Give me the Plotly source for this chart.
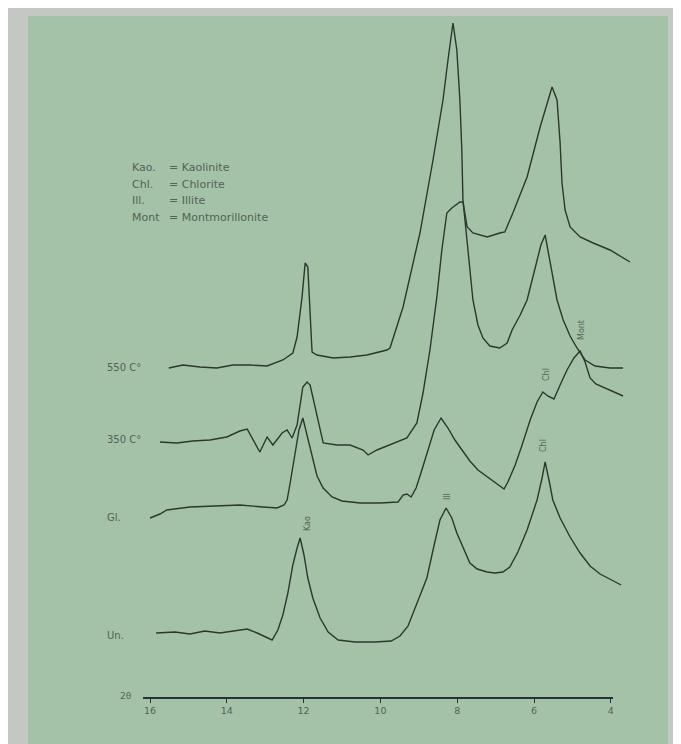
import plotly.graph_objects as go

# page is 681x744, but the html body adds an 8px margin, so the figure is 8px smaller and shifted
PAGE_W, PAGE_H, OFF = 681, 744, 8
W, H = PAGE_W - OFF, PAGE_H - OFF

# ---- data (2theta in degrees, intensity above each pattern's own baseline, arbitrary units) ----
un_theta = [15.84, 15.35, 14.96, 14.57, 14.18, 13.79, 13.47, 13.21, 13.01, 12.82, 12.67, 12.54, 12.41, 12.28, 12.17, 12.09,
            11.99, 11.89, 11.76, 11.57, 11.36, 11.10, 10.66, 10.14, 9.72, 9.49, 9.28, 9.02, 8.79, 8.60, 8.45, 8.29,
            8.14, 8.01, 7.82, 7.67, 7.48, 7.22, 7.02, 6.81, 6.63, 6.42, 6.18, 5.92, 5.79, 5.71,
            5.61, 5.51, 5.32, 5.06, 4.80, 4.54, 4.28, 4.02, 3.73]
un_int = [0, 1, -1, 2, 0, 2, 4, 0, -4, -7, 3, 18, 40, 68, 85, 95,
          78, 55, 35, 15, 1, -7, -9, -9, -8, -3, 7, 33, 55, 88, 113, 125,
          115, 100, 83, 70, 64, 61, 60, 61, 66, 81, 103, 133, 155, 171,
          153, 133, 115, 96, 80, 67, 59, 54, 48]

gl_theta = [16.00, 15.74, 15.56, 14.96, 14.31, 13.66, 13.06, 12.69, 12.51, 12.43, 12.35, 12.22, 12.12, 12.02,
            11.91, 11.78, 11.65, 11.49, 11.26, 11.00, 10.53, 10.01, 9.54, 9.41, 9.31, 9.20, 9.07, 8.92, 8.76, 8.60, 8.42,
            8.24, 8.06, 7.88, 7.67, 7.46, 7.22, 7.02, 6.89, 6.78, 6.68, 6.49, 6.31, 6.10, 5.92, 5.77,
            5.64, 5.48, 5.32, 5.14, 4.96, 4.80, 4.67, 4.54, 4.39, 4.20, 3.97, 3.68]
gl_int = [-11, -7, -3, 0, 1, 2, 0, -1, 2, 7, 24, 52, 77, 89,
          72, 49, 31, 19, 10, 6, 4, 4, 5, 12, 13, 10, 19, 37, 57, 77, 89,
          79, 67, 57, 46, 37, 30, 25, 21, 18, 25, 42, 62, 87, 105, 115,
          111, 108, 122, 137, 149, 156, 145, 129, 123, 120, 116, 111]

t350_theta = [15.74, 15.30, 14.88, 14.44, 14.00, 13.66, 13.47, 13.32, 13.14, 12.95, 12.80, 12.56, 12.43, 12.30, 12.17,
              12.02, 11.91, 11.83, 11.65, 11.49, 11.13, 10.79, 10.45, 10.32, 10.09, 9.75, 9.31, 9.05, 8.89, 8.71,
              8.53, 8.40, 8.27, 8.14, 7.93, 7.85, 7.74, 7.59, 7.22, 6.89, 6.76, 6.55, 6.18, 5.84, 5.53,
              5.40, 5.32, 5.27, 5.19, 5.06, 4.80, 4.46, 4.02, 3.50]
t350_int = [0, -1, 1, 2, 5, 11, 13, 2, -10, 5, -3, 9, 12, 4, 17,
            55, 60, 57, 25, -1, -3, -3, -8, -13, -8, -3, 4, 19, 49, 92,
            145, 192, 229, 234, 240, 240, 215, 209, 205, 209, 210, 229, 265, 315, 355,
            342, 299, 259, 232, 215, 205, 199, 192, 180]

t550_theta = [15.51, 15.14, 14.70, 14.26, 13.84, 13.40, 12.95, 12.54, 12.28, 12.17, 12.04, 11.96, 11.89, 11.83, 11.78,
              11.65, 11.23, 10.79, 10.35, 9.83, 9.75, 9.41, 8.97, 8.63, 8.37, 8.24, 8.11, 8.01, 7.93, 7.88, 7.85,
              7.72, 7.59, 7.46, 7.33, 7.15, 6.89, 6.70, 6.57, 6.36, 6.18, 5.97, 5.82, 5.71,
              5.58, 5.40, 5.24, 5.06, 4.88, 4.67, 4.41, 4.02, 3.68]
t550_int = [0, 3, 1, 0, 3, 3, 2, 8, 15, 31, 71, 105, 101, 55, 16,
            13, 10, 11, 13, 18, 20, 61, 135, 208, 268, 308, 345, 318, 268, 218, 168,
            118, 68, 43, 30, 22, 20, 25, 38, 53, 68, 100, 123, 133,
            106, 68, 48, 32, 20, 8, 2, 0, 0]

# stacking baselines (vertical shift of each pattern), and names
pattern_names = ["550 C°", "350 C°", "Gl.", "Un."]
pattern_shift = [376, 302, 237, 111]

tick_vals = [16, 14, 12, 10, 8, 6, 4]
tick_text = ["16", "14", "12", "10", "8", "6", "4"]

legend_abbr = ["Kao.", "Chl.", "Ill.", "Mont"]
legend_full = ["= Kaolinite", "= Chlorite", "= Illite", "= Montmorillonite"]

peak_labels = ["Kao", "Ill", "Chl", "Chl", "Mont"]

# ------------------------------------------------------------------------------------------------
fig = go.Figure()
LINE = "#2b382e"
series = [(t550_theta, t550_int), (t350_theta, t350_int), (gl_theta, gl_int), (un_theta, un_int)]
for (th, it), name, sh in zip(series, pattern_names, pattern_shift):
    fig.add_trace(go.Scatter(x=th, y=[v + sh for v in it], mode="lines", name=name,
                             line=dict(color=LINE, width=1.4), hoverinfo="skip", showlegend=False))

# dummy trace to carry the drawn 2-theta axis
fig.add_trace(go.Scatter(x=[16, 4], y=[0, 0], xaxis="x2", yaxis="y2", mode="lines",
                         line=dict(color="rgba(0,0,0,0)", width=0), hoverinfo="skip", showlegend=False))


def px(x):
    return (x - OFF) / W


def py(y):
    return 1 - (y - OFF) / H


shapes = [
    dict(type="rect", xref="paper", yref="paper", x0=0, x1=1, y0=0, y1=1, fillcolor="#c3c8c3",
         line=dict(width=0), layer="below"),
    dict(type="rect", xref="paper", yref="paper", x0=px(28), x1=px(668), y0=0, y1=py(16), fillcolor="#a4c2a8",
         line=dict(width=0), layer="below"),
]

TXT = "#536356"
FONT = "DejaVu Sans"
ann = []
label_y = [368, 439, 517, 635]
for name, yy in zip(pattern_names, label_y):
    ann.append(dict(x=px(105), y=py(yy), xref="paper", yref="paper", text=name, showarrow=False,
                    xanchor="left", yanchor="middle", font=dict(size=10, color=TXT, family=FONT)))
for i, (a, f) in enumerate(zip(legend_abbr, legend_full)):
    yy = 168 + i * 16.5
    ann.append(dict(x=px(130), y=py(yy), xref="paper", yref="paper", text=a, showarrow=False,
                    xanchor="left", yanchor="middle", font=dict(size=11, color=TXT, family=FONT)))
    ann.append(dict(x=px(167), y=py(yy), xref="paper", yref="paper", text=f, showarrow=False,
                    xanchor="left", yanchor="middle", font=dict(size=11, color=TXT, family=FONT)))
peak_pos = [(307, 524), (447, 497), (543, 446), (546, 375), (581, 330)]
for t, (xx, yy) in zip(peak_labels, peak_pos):
    ann.append(dict(x=px(xx), y=py(yy), xref="paper", yref="paper", text=t, showarrow=False, textangle=-90,
                    xanchor="center", yanchor="middle", font=dict(size=8, color=TXT, family=FONT)))
ann.append(dict(x=px(126), y=py(696), xref="paper", yref="paper", text="2θ", showarrow=False,
                xanchor="center", yanchor="middle", font=dict(size=9, color=TXT, family=FONT)))

SCALE = 38.4  # pixels per degree 2theta
th_left = 16 + (150 - OFF) / SCALE
th_right = 16 - (PAGE_W - 150) / SCALE
fig.update_layout(
    width=W, height=H, margin=dict(l=0, r=0, t=0, b=0),
    paper_bgcolor="#c3c8c3", plot_bgcolor="rgba(0,0,0,0)",
    xaxis=dict(range=[th_left, th_right], visible=False, domain=[0, 1]),
    yaxis=dict(range=[0, H], visible=False, domain=[0, 1]),
    xaxis2=dict(domain=[(143 - OFF) / W, (613 - OFF) / W], range=[16 + 7 / SCALE, 16 - 463 / SCALE], anchor="y2",
                showline=True, linecolor="#26303a", linewidth=2, ticks="outside", ticklen=4,
                tickcolor="#26303a", tickwidth=1, tickvals=tick_vals, ticktext=tick_text,
                tickfont=dict(size=9.5, color=TXT, family=FONT), showgrid=False, zeroline=False),
    yaxis2=dict(domain=[47 / H, 60 / H], visible=False, range=[0, 1]),
    shapes=shapes, annotations=ann, showlegend=False,
)

fig.write_html("out.html")
